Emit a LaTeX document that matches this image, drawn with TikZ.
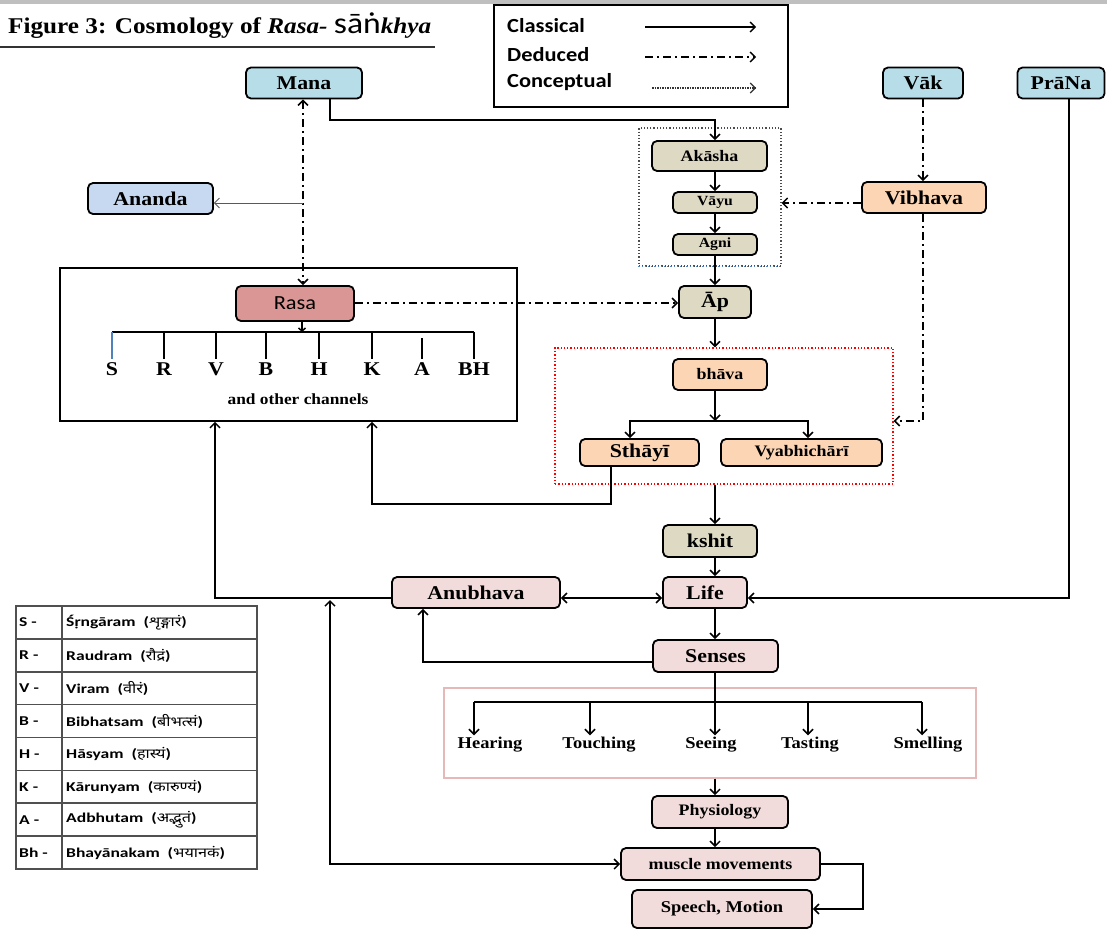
\documentclass[tikz,border=0pt]{standalone}
\usepackage{fontspec}
\setmainfont{Liberation Serif}[FakeStretch=1.12]
\newfontfamily\calfont{Carlito}[FakeStretch=1.12]
\newfontfamily\tabfont{Carlito}[FakeStretch=1.3]
\newfontfamily\devafont[Script=Devanagari]{Noto Sans}
\newfontfamily\tabdeva[Script=Devanagari,FakeStretch=1.2]{Noto Sans}
\usetikzlibrary{arrows.meta,calc}
\definecolor{lblue}{HTML}{B7DDE8}
\definecolor{ablue}{HTML}{C6D9F1}
\definecolor{tanc}{HTML}{DDD9C3}
\definecolor{peach}{HTML}{FCD5B4}
\definecolor{rasac}{HTML}{D99694}
\definecolor{pinkc}{HTML}{F2DCDB}
\definecolor{pinkborder}{HTML}{E6B9B8}
\definecolor{sblue}{HTML}{4F81BD}
\definecolor{tgray}{HTML}{505050}
\tikzset{
  >={Straight Barb[length=5pt,width=10pt]},
  box/.style={draw, line width=1.8pt, rounded corners=5pt, inner sep=0pt, align=center},
  sz/.style 2 args={minimum width=#1pt, minimum height=#2pt},
  big/.style={font=\fontsize{19.5}{22}\selectfont\bfseries},
  mid/.style={font=\fontsize{16}{19}\selectfont\bfseries},
  small/.style={font=\fontsize{14}{16}\selectfont\bfseries},
  lab/.style={inner sep=2pt, font=\fontsize{16.5}{19}\selectfont\bfseries},
  letter/.style={inner sep=3pt, font=\fontsize{19.5}{22}\selectfont\bfseries},
  legtext/.style={anchor=west, inner sep=0pt, font=\calfont\bfseries\fontsize{20}{22}\selectfont},
  tabtext/.style={anchor=west, inner sep=0pt, font=\tabfont\bfseries\fontsize{13.5}{15}\selectfont},
  conn/.style={line width=1.5pt, ->},
  plain/.style={line width=1.5pt},
  dd/.style={line width=1.5pt, dash pattern=on 8pt off 4pt on 2pt off 4pt},
  frame/.style={inner sep=0pt}
}
\begin{document}
\begin{tikzpicture}[x=1pt, y=-1pt]
\useasboundingbox (0,0) rectangle (1107,931);
\fill[white] (0,0) rectangle (1107,931);
\fill[black!25] (0,0) rectangle (1107,4);

% title
\node[anchor=base west, inner sep=0pt] (title) at (8,34)
  {\fontsize{22.5}{26}\selectfont\bfseries Figure 3: Cosmology of \textit{Rasa-} {\calfont\mdseries\fontsize{30}{32}\selectfont sāṅ}\textit{khya}};
\draw[line width=1.5pt, black!80] (0,47) -- (435,47);

% legend
\node[draw, line width=1.6pt, frame, sz={294}{102}] (legend) at (641,56) {};
\node[legtext] (lc) at (507,26) {Classical};
\node[legtext] (ld) at (507,55) {Deduced};
\node[legtext] (lp) at (507,82) {Conceptual};
\coordinate (l1a) at (645,27); \coordinate (l1b) at (756,27);
\coordinate (l2a) at (645,57); \coordinate (l2b) at (756,57);
\coordinate (l3a) at (652,88); \coordinate (l3b) at (756,88);
\draw[conn, line width=1.3pt] (l1a) -- (l1b);
\draw[dd, ->, line width=1.3pt] (l2a) -- (l2b);
\draw[->, line width=1.1pt, black!80, dash pattern=on 1.5pt off 1pt] (l3a) -- (l3b);

% frames
\node[draw=black!70, dotted, line width=1.2pt, frame, sz={142}{138}] (dbox) at (710,197) {};
\draw[sblue, dotted, line width=1.2pt] (dbox.south west) -- (dbox.south east);
\node[draw, line width=1.6pt, frame, sz={457}{153}] (bigbox) at (288.5,344.5) {};
\node[draw=red, dotted, line width=1.3pt, frame, sz={338}{136}] (rbox) at (724,416) {};
\node[draw=pinkborder, line width=1.3pt, frame, sz={532}{90}] (pbox) at (710,733) {};

% nodes
\node[box, big, fill=lblue, sz={116}{31}] (mana) at (304,83) {Mana};
\node[box, big, fill=lblue, sz={80}{31}] (vak) at (923,83) {Vāk};
\node[box, big, fill=lblue, sz={87}{31}] (prana) at (1061,83) {PrāNa};
\node[box, big, fill=ablue, sz={125}{31}] (ananda) at (150.5,198.5) {Ananda};
\node[box, mid, fill=tanc, sz={115}{30}] (akasha) at (709.5,156) {Akāsha};
\node[box, small, fill=tanc, sz={84}{21}] (vayu) at (715,202.5) {Vāyu};
\node[box, small, fill=tanc, sz={84}{21}] (agni) at (715,244.5) {Agni};
\node[box, big, fill=peach, sz={124}{31}] (vibhava) at (924,197.5) {Vibhava};
\node[box, big, fill=tanc, sz={72}{32}] (ap) at (715,302) {Āp};
\node[box, fill=rasac, sz={118}{35}, font=\calfont\fontsize{20}{22}\selectfont] (rasa) at (295,303.5) {Rasa};
\node[box, mid, fill=peach, sz={94}{31}] (bhava) at (720,374.5) {bhāva};
\node[box, big, fill=peach, sz={119}{27}] (sthayi) at (639.5,452.5) {Sthāyī};
\node[box, mid, fill=peach, sz={161}{27}] (vyabh) at (801.5,452.5) {Vyabhichārī};
\node[box, big, fill=tanc, sz={94}{32}] (kshit) at (710,541) {kshit};
\node[box, big, fill=pinkc, sz={84}{31}] (life) at (705,592.5) {Life};
\node[box, big, fill=pinkc, sz={168}{31}] (anubhava) at (476,592.5) {Anubhava};
\node[box, big, fill=pinkc, sz={125}{32}] (senses) at (715.5,656) {Senses};
\node[box, mid, fill=pinkc, sz={136}{32}] (phys) at (720,812) {Physiology};
\node[box, mid, fill=pinkc, sz={199}{32}] (muscle) at (720.5,864) {muscle movements};
\node[box, mid, fill=pinkc, sz={180}{38}, font=\fontsize{16.5}{19}\selectfont\bfseries] (speech) at (722,909) {Speech, Motion};

% sense labels
\node[lab] (hearing) at (490,745) {Hearing};
\node[lab] (touching) at (599,745) {Touching};
\node[lab] (seeing) at (711,745) {Seeing};
\node[lab] (tasting) at (810,745) {Tasting};
\node[lab] (smelling) at (928,745) {Smelling};

% rasa letters
\node[letter] (lS) at (112,369) {S};
\node[letter] (lR) at (164,369) {R};
\node[letter] (lV) at (216,369) {V};
\node[letter] (lB) at (266,369) {B};
\node[letter] (lH) at (319,369) {H};
\node[letter] (lK) at (372,369) {K};
\node[letter] (lA) at (422,369) {A};
\node[letter] (lBH) at (474,369) {BH};
\node[inner sep=0pt, font=\fontsize{15.5}{17}\selectfont\bfseries] (aoc) at (298,399) {and other channels};

% helper coordinates
\coordinate (ax) at (715,0);
\coordinate (mx) at (330,0);
\coordinate (t1) at (715,120);
\coordinate (rx) at (303,0);
\coordinate (an) at (303,203);
\coordinate (vx) at (923,0);
\coordinate (vy) at (0,203);
\coordinate (ry) at (0,421);
\coordinate (ay) at (0,303);
\coordinate (t0) at (302,332);
\coordinate (tA) at (0,338);
\coordinate (j1) at (715,421);
\coordinate (s1) at (630,0);
\coordinate (s3) at (808,0);
\coordinate (s2) at (611,0);
\coordinate (b1) at (372,504);
\coordinate (ly) at (0,598);
\coordinate (b2) at (215,0);
\coordinate (sy) at (0,662);
\coordinate (a2) at (423,0);
\coordinate (px) at (1069,0);
\coordinate (j2) at (715,702);
\coordinate (h1) at (474,0);
\coordinate (h2) at (590,0);
\coordinate (h3) at (715,0);
\coordinate (h4) at (808,0);
\coordinate (h5) at (922,0);
\coordinate (m1) at (330,600);
\coordinate (my) at (0,864);

% connectors
\draw[conn] (mana.south -| mx) |- (t1) -- (akasha.north -| t1);
\draw[dd, <->] (mana.south -| rx) -- (rasa.north -| rx);
\draw[->, line width=0.8pt, black!65] (an) -- (ananda.east |- an);
\draw[conn] (akasha.south -| ax) -- (vayu.north -| ax);
\draw[conn] (vayu.south -| ax) -- (agni.north -| ax);
\draw[conn] (agni.south -| ax) -- (ap.north -| ax);
\draw[dd, ->] (vak.south -| vx) -- (vibhava.north -| vx);
\draw[dd, ->] (vibhava.west |- vy) -- (dbox.east |- vy);
\draw[dd, ->] (vibhava.south -| vx) |- (rbox.east |- ry);
\draw[dd, ->] (rasa.east |- ay) -- (ap.west |- ay);
\draw[conn] (ap.south -| ax) -- (rbox.north -| ax);
\draw[conn] (bhava.south -| ax) -- (j1);
\draw[conn] (j1) -| (sthayi.north -| s1);
\draw[conn] (j1) -| (vyabh.north -| s3);
\draw[conn] (sthayi.south -| s2) |- (b1) -- (bigbox.south -| b1);
\draw[conn] (rbox.south -| ax) -- (kshit.north -| ax);
\draw[conn] (kshit.south -| ax) -- (life.north -| ax);
\draw[conn] (life.south -| ax) -- (senses.north -| ax);
\draw[conn, <->] (anubhava.east |- ly) -- (life.west |- ly);
\draw[conn] (anubhava.west |- ly) -| (bigbox.south -| b2);
\draw[conn] (senses.west |- sy) -| (anubhava.south -| a2);
\draw[conn] (prana.south -| px) |- (life.east |- ly);
\draw[plain] (senses.south -| ax) -- (j2);
\draw[plain] (j2 -| h1) -- (j2 -| h5);
\draw[conn] (j2 -| h1) -- (hearing.north -| h1);
\draw[conn] (j2 -| h2) -- (touching.north -| h2);
\draw[conn] (j2 -| h3) -- (seeing.north -| h3);
\draw[conn] (j2 -| h4) -- (tasting.north -| h4);
\draw[conn] (j2 -| h5) -- (smelling.north -| h5);
\draw[conn] (pbox.south -| ax) -- (phys.north -| ax);
\draw[conn] (phys.south -| ax) -- (muscle.north -| ax);
\draw[conn, <->] (m1) |- (muscle.west |- my);
\draw[conn] (muscle.east) -- ++(42,0) |- (speech.east);

% rasa tree
\draw[conn, >={Straight Barb[length=3pt,width=7pt]}] (rasa.south -| t0) -- (t0);
\draw[plain] (lS.north |- t0) -- (lBH.north |- t0);
\draw[plain, sblue] (lS.north |- t0) -- (lS.north);
\draw[plain] (lR.north |- t0) -- (lR.north);
\draw[plain] (lV.north |- t0) -- (lV.north);
\draw[plain] (lB.north |- t0) -- (lB.north);
\draw[plain] (lH.north |- t0) -- (lH.north);
\draw[plain] (lK.north |- t0) -- (lK.north);
\draw[plain] (lA.north |- tA) -- (lA.north);
\draw[plain] (lBH.north |- t0) -- (lBH.north);

% table
\node[draw=tgray, line width=2pt, frame, sz={241}{263}] (tab) at (136.5,737.5) {};
\foreach \k in {1,...,7} {
  \draw[tgray, line width=1.6pt] (16,{606+\k*32.875}) -- (257,{606+\k*32.875});
}
\draw[tgray, line width=1.6pt] (62,606) -- (62,869);
\foreach \a/\b/\c [count=\i] in {S -/Śṛngāram/शृङ्गारं, R -/Raudram/रौद्रं, V -/Viram/वीरं, B -/Bibhatsam/बीभत्सं, H -/Hāsyam/हास्यं, K -/Kārunyam/कारुण्यं, A -/Adbhutam/अद्भुतं, Bh -/Bhayānakam/भयानकं} {
  \node[tabtext] (ta\i) at (19,{606+(\i-0.5)*32.875}) {\a};
  \node[tabtext] (tb\i) at (66,{606+(\i-0.5)*32.875}) {\b\ \ ({\tabdeva\bfseries\c})};
}
\end{tikzpicture}
\end{document}
